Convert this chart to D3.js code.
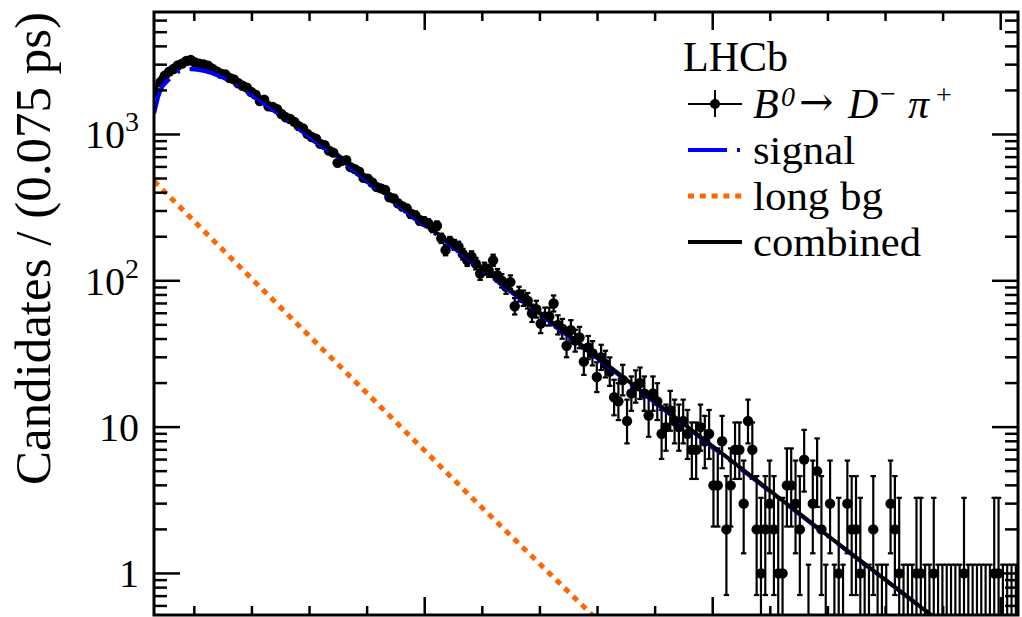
<!DOCTYPE html>
<html>
<head>
<meta charset="utf-8">
<script src="https://cdn.jsdelivr.net/npm/d3@7"></script>
<style>
  html, body { margin: 0; padding: 0; background: #fff; }
  svg { display: block; }
  text { font-family: "Liberation Serif", "Times New Roman", serif; fill: #000; }
</style>
</head>
<body>
<svg id="chart" width="1022" height="617"></svg>
<script>
// Decay-time histogram: 0.075 ps bins starting at 0.3 ps
const binWidth = 0.075;
const tStart = 0.3;
const counts = [
  1930, 2280, 2520, 2690, 2800, 2960, 3050, 3180, 3230, 3100, 3040, 3010, 2950, 2810, 2700, 2600,
  2570, 2430, 2380, 2240, 2150, 2090, 1950, 1870, 1690, 1730, 1560,
  1540, 1490, 1380, 1310, 1275, 1220, 1140, 1100, 1010, 960, 935, 862, 845, 775,
  752, 640, 660, 668, 598, 580, 556, 505, 498, 470, 438, 428, 417, 372, 365,
  338, 322, 312, 286, 280, 258, 255, 247, 230, 238, 195, 162, 185, 176, 171,
  152, 138, 146, 131, 112, 121, 117, 138, 109, 100, 91, 98, 67, 81, 76,
  73, 60, 64, 51, 57, 57, 70, 50, 47, 36, 46, 39, 41, 28, 35,
  32, 22, 30, 27, 24, 16, 15, 21, 11, 17, 19, 20, 17, 12, 17, 15, 9,
  10, 13, 11, 10, 11, 9, 7, 7, 10, 8,
  9, 4, 4, 8, 2, 4, 7, 7, 3, 11, 7, 2, 1, 2, 3, 2, 1,
  1, 4, 4, 3, 2, 6, 0, 3, 5, 2, 0, 3, 0, 1, 0, 3, 2, 2, 1, 0,
  0, 2, 0, 0, 0, 3, 2, 1, 0, 0, 0, 1, 1, 0, 0, 1, 0, 0, 0, 0,
  0, 0, 1, 0, 0, 0, 0, 0, 0, 1, 1, 0, 0, 0, 0
];

// Fit components, sampled as (time [ps], candidates)
const signalT   = [0.3, 0.40, 0.58, 0.75, 0.95, 1.18, 1.44, 1.73, 2.25, 2.83, 3.47, 4.27, 6, 8, 10, 12, 14, 15.3];
const signalV   = [1390, 1960, 2420, 2720, 2800, 2720, 2510, 2180, 1590, 1080, 705, 398, 119, 29.5, 7.3, 1.8, 0.45, 0.18];
const combinedT = [0.3, 0.40, 0.58, 0.75, 0.95, 1.18, 1.44, 1.73, 2.25, 2.83, 3.47, 4.27, 6, 8, 10, 12, 14, 15.3];
const combinedV = [1880, 2400, 2790, 3040, 3070, 2940, 2680, 2310, 1680, 1130, 733, 411, 122, 30, 7.4, 1.81, 0.45, 0.18];
const longBgT   = [0.3, 2, 4, 6, 8];
const longBgV   = [480, 103, 17, 2.8, 0.48];

// Axis ticks
const yMajor = [1, 10, 100, 1000];
const yMajorLabels = [["1", ""], ["10", ""], ["10", "2"], ["10", "3"]];
const yMinor = [0.6, 0.7, 0.8, 0.9, 2, 3, 4, 5, 6, 7, 8, 9, 20, 30, 40, 50, 60, 70, 80, 90,
                200, 300, 400, 500, 600, 700, 800, 900, 2000, 3000, 4000, 5000, 6000];
const xMajor = [5, 10, 15];
const xMinor = [1, 2, 3, 4, 6, 7, 8, 9, 11, 12, 13, 14];

// Legend entries
const legendLabels = ["signal", "long bg", "combined"];

const svg = d3.select("#chart");
const L = 154, R = 1018, T = 12, B = 615;

const x = d3.scaleLinear().domain([0.3, 15.3]).range([L, R]);
const y = d3.scaleLog().domain([0.52, 6870]).range([B, T]);
const yMin = y.domain()[0], yMax = y.domain()[1];

svg.append("defs").append("clipPath").attr("id", "plotArea")
  .append("rect").attr("x", L).attr("y", T).attr("width", R - L).attr("height", B - T);

const plot = svg.append("g").attr("clip-path", "url(#plotArea)");

// Poisson 68% intervals (empty bins: one-sided upper limit)
function poissonInterval(n) {
  if (n === 0) return [0, 1.148];
  const lo = n * Math.pow(1 - 1 / (9 * n) - 1 / (3 * Math.sqrt(n)), 3);
  const m = n + 1;
  const hi = m * Math.pow(1 - 1 / (9 * m) + 1 / (3 * Math.sqrt(m)), 3);
  return [lo, hi];
}

const bins = counts.map((n, i) => {
  const t = tStart + (i + 0.5) * binWidth;
  const [lo, hi] = poissonInterval(n);
  return { t, n, lo, hi };
});

// Data: error bars with end caps, then markers
const gData = plot.append("g");
const capHalf = 2.7;
bins.forEach(b => {
  const cx = x(b.t);
  const yLo = b.lo > yMin ? y(b.lo) : B + 5;
  const yHi = b.hi < yMax ? y(b.hi) : T - 5;
  gData.append("line").attr("x1", cx).attr("x2", cx).attr("y1", yLo).attr("y2", yHi)
    .attr("stroke", "#000").attr("stroke-width", 2.2);
  if (b.hi < yMax) {
    gData.append("line").attr("x1", cx - capHalf).attr("x2", cx + capHalf)
      .attr("y1", yHi).attr("y2", yHi).attr("stroke", "#000").attr("stroke-width", 2.2);
  }
  if (b.lo > yMin) {
    gData.append("line").attr("x1", cx - capHalf).attr("x2", cx + capHalf)
      .attr("y1", yLo).attr("y2", yLo).attr("stroke", "#000").attr("stroke-width", 2.2);
  }
});
gData.selectAll("circle").data(bins.filter(b => b.n > 0)).join("circle")
  .attr("cx", d => x(d.t)).attr("cy", d => y(d.n)).attr("r", 5.2).attr("fill", "#000");

// Fit curves
const smooth = d3.line().x(d => x(d[0])).y(d => y(d[1])).curve(d3.curveMonotoneX);
const straight = d3.line().x(d => x(d[0])).y(d => y(d[1]));

const styles = {
  signal:   { stroke: "#0000ff", width: 4.2, dash: "39,10,3,10" },
  longBg:   { stroke: "#ff6600", width: 5,   dash: "6,5.8" },
  combined: { stroke: "#000000", width: 4,   dash: null }
};

plot.append("path").attr("d", smooth(d3.zip(signalT, signalV)))
  .attr("fill", "none").attr("stroke", styles.signal.stroke).attr("stroke-width", styles.signal.width)
  .attr("stroke-dasharray", styles.signal.dash);
plot.append("path").attr("d", straight(d3.zip(longBgT, longBgV)))
  .attr("fill", "none").attr("stroke", styles.longBg.stroke).attr("stroke-width", styles.longBg.width)
  .attr("stroke-dasharray", styles.longBg.dash);
plot.append("path").attr("d", smooth(d3.zip(combinedT, combinedV)))
  .attr("fill", "none").attr("stroke", styles.combined.stroke).attr("stroke-width", styles.combined.width);

// Frame and ticks
const axes = svg.append("g").attr("stroke", "#000");
axes.append("rect").attr("x", L).attr("y", T).attr("width", R - L).attr("height", B - T)
  .attr("fill", "none").attr("stroke-width", 3);

yMajor.forEach(v => {
  axes.append("line").attr("x1", L).attr("x2", L + 26).attr("y1", y(v)).attr("y2", y(v)).attr("stroke-width", 2.5);
  axes.append("line").attr("x1", R).attr("x2", R - 26).attr("y1", y(v)).attr("y2", y(v)).attr("stroke-width", 2.5);
});
yMinor.forEach(v => {
  axes.append("line").attr("x1", L).attr("x2", L + 13).attr("y1", y(v)).attr("y2", y(v)).attr("stroke-width", 2.5);
  axes.append("line").attr("x1", R).attr("x2", R - 13).attr("y1", y(v)).attr("y2", y(v)).attr("stroke-width", 2.5);
});
xMajor.forEach(v => {
  axes.append("line").attr("x1", x(v)).attr("x2", x(v)).attr("y1", T).attr("y2", T + 18).attr("stroke-width", 2.5);
  axes.append("line").attr("x1", x(v)).attr("x2", x(v)).attr("y1", B).attr("y2", B - 18).attr("stroke-width", 2.5);
});
xMinor.forEach(v => {
  axes.append("line").attr("x1", x(v)).attr("x2", x(v)).attr("y1", T).attr("y2", T + 9).attr("stroke-width", 2.5);
  axes.append("line").attr("x1", x(v)).attr("x2", x(v)).attr("y1", B).attr("y2", B - 9).attr("stroke-width", 2.5);
});

// Y tick labels
yMajor.forEach((v, i) => {
  const [base, exp] = yMajorLabels[i];
  const t = svg.append("text").attr("x", 139).attr("y", y(v) + 14)
    .attr("text-anchor", "end").attr("font-size", 40);
  t.append("tspan").text(base);
  if (exp) t.append("tspan").attr("font-size", 28).attr("dy", -17).text(exp);
});

// Y axis title
svg.append("text").attr("transform", `translate(50,${T}) rotate(-90)`)
  .attr("text-anchor", "end").attr("font-size", 51).text("Candidates / (0.075 ps)");

// Legend
const lg = svg.append("g");
lg.append("text").attr("x", 683).attr("y", 71).attr("font-size", 42).text("LHCb");

// data entry: marker with error bar
const dataRowY = 104;
lg.append("line").attr("x1", 688).attr("x2", 742).attr("y1", dataRowY).attr("y2", dataRowY).attr("stroke", "#000").attr("stroke-width", 2);
lg.append("line").attr("x1", 715).attr("x2", 715).attr("y1", dataRowY - 14).attr("y2", dataRowY + 13).attr("stroke", "#000").attr("stroke-width", 2);
lg.append("circle").attr("cx", 715).attr("cy", dataRowY).attr("r", 5).attr("fill", "#000");

const dec = lg.append("text").attr("font-size", 42);
const decBase = 118;
dec.append("tspan").attr("x", 753).attr("y", decBase).attr("font-style", "italic").text("B");
dec.append("tspan").attr("x", 781).attr("y", decBase - 12).attr("font-size", 28).attr("font-style", "italic").text("0");
dec.append("tspan").attr("x", 799).attr("y", decBase - 2).attr("font-family", "DejaVu Serif").attr("font-size", 41).text("\u2192");
dec.append("tspan").attr("x", 848).attr("y", decBase).attr("font-style", "italic").text("D");
dec.append("tspan").attr("x", 880).attr("y", decBase - 15).attr("font-size", 28).text("\u2212");
dec.append("tspan").attr("x", 908).attr("y", decBase).attr("font-style", "italic").text("\u03c0");
dec.append("tspan").attr("x", 936).attr("y", decBase - 14).attr("font-size", 28).text("+");

// fit component entries
const rowY = [150, 196, 242];
const rowBase = [164, 210, 256];
const rowWidth = [102, 130, 168];
[styles.signal, styles.longBg, styles.combined].forEach((s, i) => {
  lg.append("line").attr("x1", 688).attr("x2", 742).attr("y1", rowY[i]).attr("y2", rowY[i])
    .attr("stroke", s.stroke).attr("stroke-width", s.width).attr("stroke-dasharray", s.dash);
  lg.append("text").attr("x", 753).attr("y", rowBase[i]).attr("font-size", 41)
    .attr("textLength", rowWidth[i]).attr("lengthAdjust", "spacingAndGlyphs")
    .text(legendLabels[i]);
});
</script>
</body>
</html>
